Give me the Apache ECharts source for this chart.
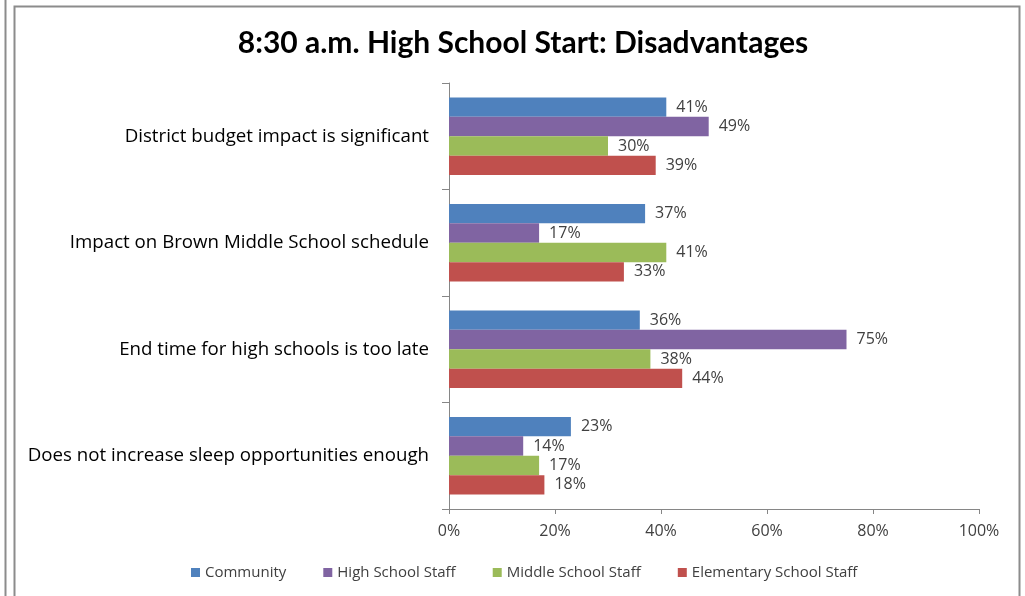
<!DOCTYPE html>
<html>
<head>
<meta charset="utf-8">
<script src="https://cdn.jsdelivr.net/npm/echarts@6/dist/echarts.min.js"></script>
<style>
html,body{margin:0;padding:0;background:#fff;}
#c{width:1025px;height:596px;}
</style>
</head>
<body>
<div id="c"></div>
<script>
const categories = [
  "District budget impact is significant",
  "Impact on Brown Middle School schedule",
  "End time for high schools is too late",
  "Does not increase sleep opportunities enough"
];
const seriesNames = ["Community", "High School Staff", "Middle School Staff", "Elementary School Staff"];
const community = [41, 37, 36, 23];
const highSchoolStaff = [49, 17, 75, 14];
const middleSchoolStaff = [30, 41, 38, 17];
const elementarySchoolStaff = [39, 33, 44, 18];
const xTicks = [0, 20, 40, 60, 80, 100];
const colors = ["#4F81BD", "#8064A2", "#9BBB59", "#C0504D"];

const FONT = "Open Sans";
const values = [community, highSchoolStaff, middleSchoolStaff, elementarySchoolStaff];

const chart = echarts.init(document.getElementById('c'), null, {renderer: 'canvas'});
chart.setOption({
  animation: false,
  backgroundColor: '#fff',
  title: {
    text: "8:30 a.m. High School Start: Disadvantages",
    left: 518,
    textAlign: 'center',
    top: 23,
    textStyle: {fontFamily: 'Lato', fontSize: 30, fontWeight: 'bold', color: '#000'}
  },
  legend: {
    bottom: 11,
    left: 186,
    itemWidth: 9,
    itemHeight: 9,
    itemGap: 37,
    icon: 'rect',
    textStyle: {fontFamily: FONT, fontSize: 15, color: '#404040'},
    data: seriesNames
  },
  grid: {left: 449, right: 46, top: 83, bottom: 87, containLabel: false},
  xAxis: {
    type: 'value',
    min: 0, max: 100, interval: 20,
    axisLine: {show: true, lineStyle: {color: '#868686'}},
    axisTick: {show: true, length: 5, lineStyle: {color: '#868686'}},
    splitLine: {show: false},
    axisLabel: {fontFamily: FONT, fontSize: 16, color: '#404040', margin: 14,
      formatter: v => xTicks.includes(v) ? v + '%' : ''}
  },
  yAxis: {
    type: 'category',
    inverse: true,
    data: categories,
    axisLine: {show: true, lineStyle: {color: '#868686'}},
    axisTick: {show: true, length: 7, lineStyle: {color: '#868686'}},
    axisLabel: {fontFamily: FONT, fontSize: 18.7, color: '#000', margin: 20}
  },
  series: seriesNames.map((name, i) => ({
    name: name,
    type: 'bar',
    data: values[i],
    barGap: 0,
    barCategoryGap: '27%',
    itemStyle: {color: colors[i]},
    label: {show: true, position: 'right', distance: 10, formatter: '{c}%',
      fontFamily: FONT, fontSize: 16, color: '#404040'}
  })),
  graphic: [
    {type: 'line', shape: {x1: 5.5, y1: 0, x2: 5.5, y2: 596}, style: {stroke: '#8c8c8c', lineWidth: 2}, silent: true},
    {type: 'rect', shape: {x: 14.5, y: 6.5, width: 1005, height: 600}, style: {fill: 'none', stroke: '#8c8c8c', lineWidth: 2}, silent: true}
  ]
});
</script>
</body>
</html>
